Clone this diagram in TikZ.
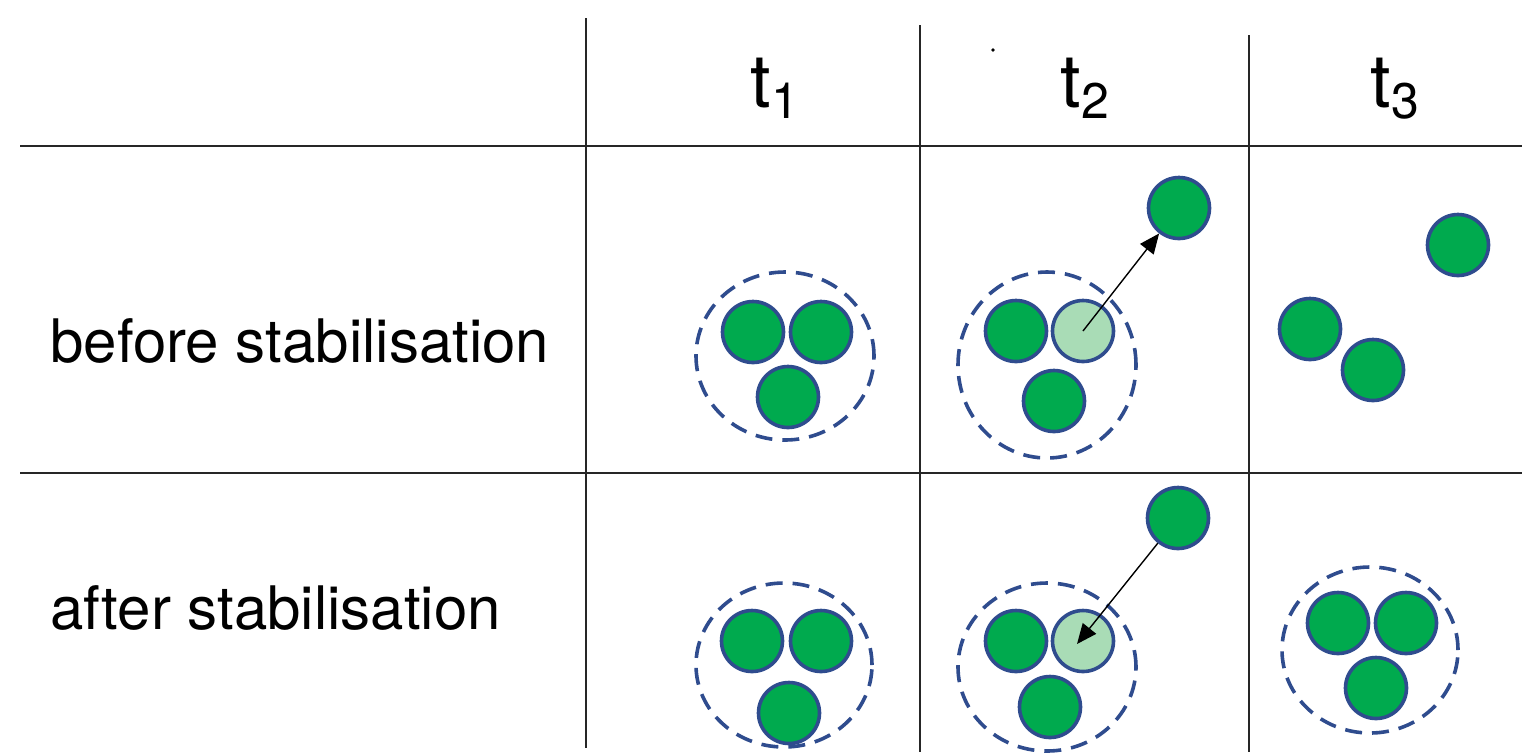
\documentclass[tikz,border=0pt]{standalone}
\usepackage{fontspec}
\setmainfont{TeX Gyre Heros}
\usetikzlibrary{arrows.meta}
\definecolor{cgreen}{HTML}{00AA4E}
\definecolor{clight}{HTML}{A9DCB6}
\definecolor{cblue}{HTML}{2F4C8E}
\tikzset{
  grid/.style={line width=1pt, black!85},
  ball/.style={circle, draw=cblue, fill=cgreen, line width=1.8pt, minimum size=30.5pt, inner sep=0pt},
  ghost/.style={ball, fill=clight},
  cluster/.style={draw=cblue, line width=1.8pt, dash pattern=on 8.5pt off 5pt},
  move/.style={line width=0.7pt, -{Triangle[length=10pt,width=8.5pt]}},
  rowlabel/.style={anchor=base west, inner sep=0pt, font=\fontsize{30}{36}\selectfont},
  collabel/.style={anchor=base, inner sep=0pt, font=\fontsize{37}{44}\selectfont}
}
\newcommand{\tsub}[1]{t\raisebox{-5.5pt}{\fontsize{25}{30}\selectfont #1}}
\begin{document}
\begin{tikzpicture}[x=0.5pt,y=-0.5pt]
\useasboundingbox (0,0) rectangle (1522,752);
% grid
\coordinate (h1a) at (20,146); \coordinate (h1b) at (1522,146);
\coordinate (h2a) at (20,473); \coordinate (h2b) at (1522,473);
\coordinate (v1a) at (586,18);  \coordinate (v1b) at (586,748);
\coordinate (v2a) at (920,25);  \coordinate (v2b) at (920,752);
\coordinate (v3a) at (1249,35); \coordinate (v3b) at (1249,752);
\draw[grid] (h1a) -- (h1b);
\draw[grid] (h2a) -- (h2b);
\draw[grid] (v1a) -- (v1b);
\draw[grid] (v2a) -- (v2b);
\draw[grid] (v3a) -- (v3b);
\fill[black] (993,50) circle (0.9pt);
% headers
\node[collabel] (T1) at (775,107) {\tsub{1}};
\node[collabel] (T2) at (1085,107) {\tsub{2}};
\node[collabel] (T3) at (1395,107) {\tsub{3}};
\node[rowlabel] (R1) at (50,362) {before stabilisation};
\node[rowlabel] (R2) at (50,629) {after stabilisation};
% row 1, t1
\draw[cluster] (785,356) ellipse [x radius=44.5pt, y radius=42pt];
\node[ball] (a11) at (753,332) {};
\node[ball] (a12) at (821,332) {};
\node[ball] (a13) at (788,397) {};
% row 1, t2
\draw[cluster] (1047,365) ellipse [x radius=44.5pt, y radius=46.5pt];
\node[ball] (b11) at (1016,331) {};
\node[ghost] (b12) at (1083,331) {};
\node[ball] (b13) at (1054,401) {};
\node[ball] (b14) at (1179,208) {};
\draw[move] (b12.center) -- (b14);
% row 1, t3
\node[ball] (c11) at (1458,245) {};
\node[ball] (c12) at (1310,329) {};
\node[ball] (c13) at (1373,370) {};
% row 2, t1
\draw[cluster] (784,665) ellipse [x radius=44pt, y radius=41pt];
\node[ball] (a21) at (752,641) {};
\node[ball] (a22) at (821,641) {};
\node[ball] (a23) at (789,713) {};
% row 2, t2
\draw[cluster] (1047,667) ellipse [x radius=44.5pt, y radius=42pt];
\node[ball] (b21) at (1016,641) {};
\node[ghost] (b22) at (1083,641) {};
\node[ball] (b23) at (1050,707) {};
\node[ball] (b24) at (1178,518) {};
\draw[move] (b24) -- ([shift={(-3pt,-1.5pt)}]b22.center);
% row 2, t3
\draw[cluster] (1370,650) ellipse [x radius=44pt, y radius=41.5pt];
\node[ball] (c21) at (1338,623) {};
\node[ball] (c22) at (1406,623) {};
\node[ball] (c23) at (1376,688) {};
\end{tikzpicture}
\end{document}
